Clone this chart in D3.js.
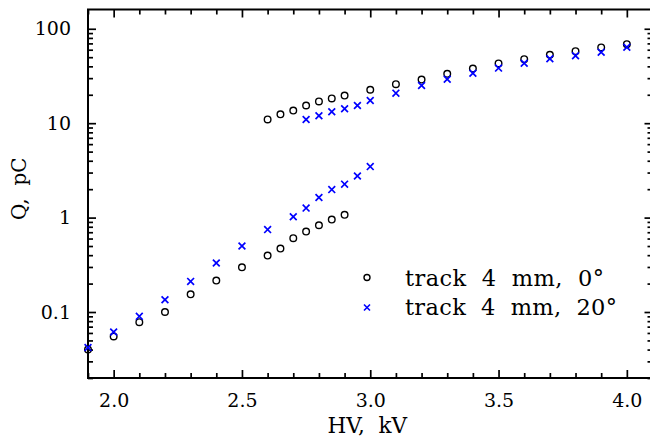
<!DOCTYPE html>
<html><head><meta charset="utf-8">
<script src="https://cdn.jsdelivr.net/npm/d3@7"></script>
<style>body{margin:0;background:#fff}svg{display:block}text{font-family:"DejaVu Serif",serif;fill:#000}</style>
</head><body>
<svg id="c" width="650" height="442"></svg>
<script>
// ---- data ----
const hv0Low  = [1.9,2.0,2.1,2.2,2.3,2.4,2.5,2.6,2.65,2.7,2.75,2.8,2.85,2.9];
const q0Low   = [0.040,0.055,0.078,0.100,0.154,0.215,0.297,0.396,0.47,0.605,0.711,0.83,0.953,1.07];
const hv0High = [2.6,2.65,2.7,2.75,2.8,2.85,2.9,3.0,3.1,3.2,3.3,3.4,3.5,3.6,3.7,3.8,3.9,4.0];
const q0High  = [10.95,12.4,13.6,15.4,17.0,18.3,19.6,22.6,25.9,29.0,33.3,37.9,42.9,47.6,53.0,57.9,63.4,68.7];
const hv20Low  = [1.9,2.0,2.1,2.2,2.3,2.4,2.5,2.6,2.7,2.75,2.8,2.85,2.9,2.95,3.0];
const q20Low   = [0.042,0.0614,0.090,0.135,0.211,0.33,0.501,0.746,1.02,1.26,1.63,1.98,2.26,2.76,3.47];
const hv20High = [2.75,2.8,2.85,2.9,2.95,3.0,3.1,3.2,3.3,3.4,3.5,3.6,3.7,3.8,3.9,4.0];
const q20High  = [10.95,12.0,13.2,14.2,15.4,17.4,20.8,25.1,29.2,33.8,38.3,43.2,48.1,51.8,56.5,63.8];
const xMajor = [2.0,2.5,3.0,3.5,4.0];
const yMajor = [0.1,1,10,100];
const yLabels = ["0.1","1","10","100"];
const legendLabels = ["track  4  mm,  0°","track  4  mm,  20°"];
const xTitle = "HV,  kV", yTitle = "Q,  pC";

// ---- layout ----
const L=88, R=652.5, T=9.5, B=378;
const svg=d3.select("#c");
const x=d3.scaleLinear().domain([1.9,4.1]).range([L,R]);
const y=d3.scaleLog().domain([0.02,160]).range([B,T]);

const xMinor=d3.range(19,42).map(d=>d/10).filter(v=>!xMajor.some(m=>Math.abs(m-v)<1e-6));
const yMinor=[];
[0.01,0.1,1,10,100].forEach(dec=>{for(let k=2;k<=9;k++){const v=dec*k;if(v>=0.02&&v<=160)yMinor.push(v);}});

function styleAxis(g){g.select(".domain").remove();g.selectAll("line").attr("stroke","#000").attr("stroke-width",1.7);g.selectAll("text").attr("font-family","DejaVu Serif").attr("font-size",19).attr("fill","#000");}

// bottom
svg.append("g").attr("transform",`translate(0,${B})`)
 .call(d3.axisBottom(x).tickValues(xMajor).tickFormat(d3.format(".1f")).tickSizeInner(-8).tickSizeOuter(0).tickPadding(16)).call(styleAxis);
svg.append("g").attr("transform",`translate(0,${B})`)
 .call(d3.axisBottom(x).tickValues(xMinor).tickFormat("").tickSizeInner(-5).tickSizeOuter(0)).call(styleAxis);
// top
svg.append("g").attr("transform",`translate(0,${T})`)
 .call(d3.axisTop(x).tickValues(xMajor).tickFormat("").tickSizeInner(-8).tickSizeOuter(0)).call(styleAxis);
svg.append("g").attr("transform",`translate(0,${T})`)
 .call(d3.axisTop(x).tickValues(xMinor).tickFormat("").tickSizeInner(-5).tickSizeOuter(0)).call(styleAxis);
// left
svg.append("g").attr("transform",`translate(${L},0)`)
 .call(d3.axisLeft(y).tickValues(yMajor).tickFormat((d,i)=>yLabels[i]).tickSizeInner(-8).tickSizeOuter(0).tickPadding(17)).call(styleAxis);
svg.append("g").attr("transform",`translate(${L},0)`)
 .call(d3.axisLeft(y).tickValues(yMinor).tickFormat("").tickSizeInner(-5).tickSizeOuter(0)).call(styleAxis);
// right
svg.append("g").attr("transform",`translate(${R},0)`)
 .call(d3.axisRight(y).tickValues(yMajor).tickFormat("").tickSizeInner(-8).tickSizeOuter(0)).call(styleAxis);
svg.append("g").attr("transform",`translate(${R},0)`)
 .call(d3.axisRight(y).tickValues(yMinor).tickFormat("").tickSizeInner(-5).tickSizeOuter(0)).call(styleAxis);

// frame
svg.append("rect").attr("x",L).attr("y",T).attr("width",R-L).attr("height",B-T)
 .attr("fill","none").attr("stroke","#000").attr("stroke-width",2);

// titles
svg.append("text").attr("x",(L+R)/2-3).attr("y",433).attr("text-anchor","middle")
 .attr("font-size",21.5).style("white-space","pre").attr("xml:space","preserve").text(xTitle);
svg.append("text").attr("transform",`translate(26,${(T+B)/2-5}) rotate(-90)`).attr("text-anchor","middle")
 .attr("font-size",20).style("white-space","pre").attr("xml:space","preserve").text(yTitle);

// markers
function circles(hv,q){
  svg.append("g").selectAll("circle").data(hv).join("circle")
   .attr("cx",d=>x(d)).attr("cy",(d,i)=>y(q[i])).attr("r",3.3)
   .attr("fill","none").attr("stroke","#000").attr("stroke-width",1.4);
}
function crosses(hv,q){
  const s=3.4;
  svg.append("g").selectAll("path").data(hv).join("path")
   .attr("d",(d,i)=>{const cx=x(d),cy=y(q[i]);return `M${cx-s},${cy-s}L${cx+s},${cy+s}M${cx-s},${cy+s}L${cx+s},${cy-s}`;})
   .attr("stroke","#0000ff").attr("stroke-width",1.7).attr("fill","none");
}
circles(hv0Low,q0Low); circles(hv0High,q0High);
crosses(hv20Low,q20Low); crosses(hv20High,q20High);

// legend
const lg=svg.append("g");
lg.append("circle").attr("cx",367).attr("cy",277.5).attr("r",3).attr("fill","none").attr("stroke","#000").attr("stroke-width",1.4);
lg.append("path").attr("d","M364,304.5L370,310.5M364,310.5L370,304.5").attr("stroke","#0000ff").attr("stroke-width",1.6);
lg.append("text").attr("x",405).attr("y",286).attr("font-size",22.5).attr("xml:space","preserve").style("white-space","pre")
 .attr("textLength",199).attr("lengthAdjust","spacing").text(legendLabels[0]);
lg.append("text").attr("x",405).attr("y",314.5).attr("font-size",22.5).attr("xml:space","preserve").style("white-space","pre")
 .attr("textLength",212).attr("lengthAdjust","spacing").text(legendLabels[1]);
</script>
</body></html>
